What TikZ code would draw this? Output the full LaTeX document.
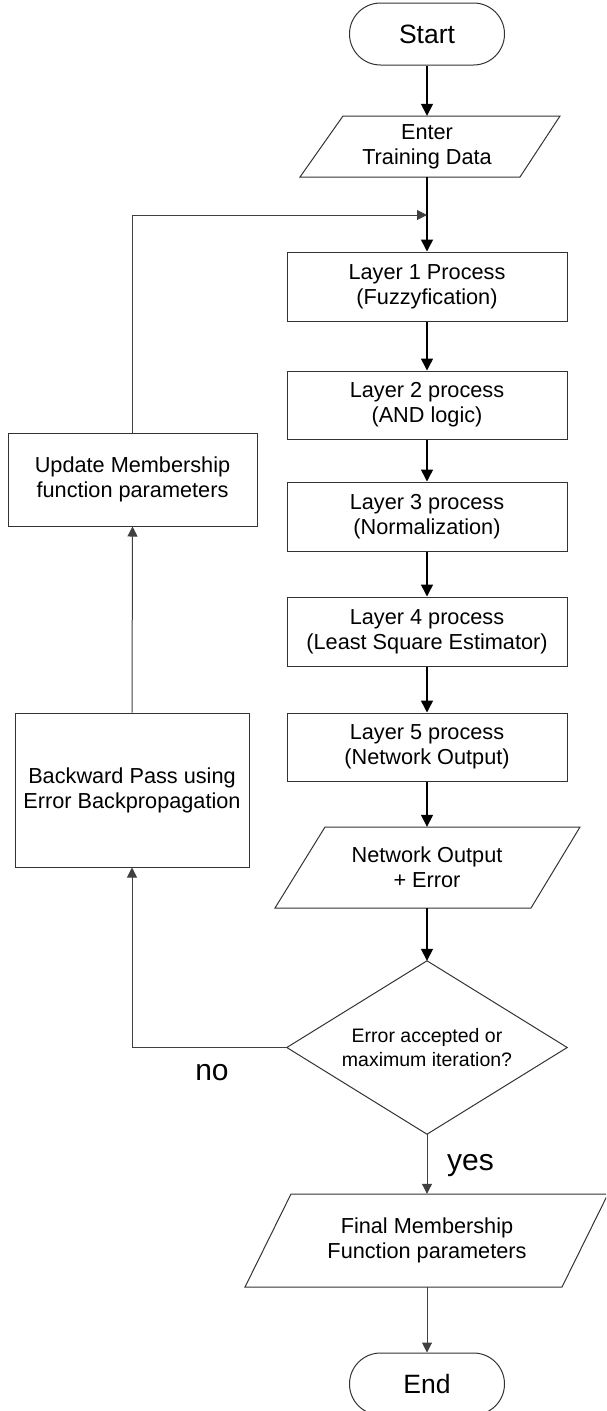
\documentclass[tikz,border=0pt]{standalone}
\usepackage{fontspec}
\setmainfont{Liberation Sans}
\usetikzlibrary{arrows.meta}
\begin{document}
\begin{tikzpicture}[x=1pt,y=-1pt,
  lbl/.style={font=\fontsize{21.7}{25}\selectfont, align=center, inner sep=0pt},
  procbox/.style={lbl, rectangle, draw=black!80, line width=1pt, minimum width=280pt, minimum height=69pt},
  term/.style={rectangle, draw=black!80, line width=1pt, rounded corners=31pt, minimum width=155pt, minimum height=62pt, inner sep=0pt, font=\fontsize{26.5}{30}\selectfont},
  outline/.style={draw=black!80, line width=1pt, line join=miter},
  thk/.style={line width=1.5pt, draw=black, -{Triangle[length=12pt,width=12pt]}},
  thn/.style={line width=1pt, draw=black!75, -{Triangle[length=10pt,width=10pt]}},
  tag/.style={font=\fontsize{30}{34}\selectfont, inner sep=0pt}
]
\useasboundingbox (0,0) rectangle (606,1411);
\clip (0,0) rectangle (606,1411);

% terminals
\node[term] (start) at (427,34) {Start};
\node[term] (end) at (427,1384) {End};

% Enter training data (parallelogram)
\node[lbl, minimum width=217pt, minimum height=61pt] (enter) at (427,146.5) {Enter\\Training Data};
\draw[outline] (343,116) -- (560,116) -- (520,177) -- (300,177) -- cycle;

% layers
\node[procbox] (l1) at (427,286.5) {Layer 1 Process\\(Fuzzyfication)};
\node[procbox, minimum height=68pt] (l2) at (427,405) {Layer 2 process\\(AND logic)};
\node[procbox] (l3) at (427,516.5) {Layer 3 process\\(Normalization)};
\node[procbox] (l4) at (427,631.5) {Layer 4 process\\(Least Square Estimator)};
\node[procbox, minimum height=68pt] (l5) at (427,747) {Layer 5 process\\(Network Output)};

% network output + error (parallelogram)
\node[lbl, minimum width=255pt, minimum height=81pt] (nout) at (427,867.5) {Network Output\\+ Error};
\draw[outline] (325,827) -- (580,827) -- (531,908) -- (275,908) -- cycle;

% decision
\node[lbl, font=\fontsize{19.5}{23.5}\selectfont, minimum width=280pt, minimum height=173pt] (dec) at (427,1047.5) {Error accepted or\\maximum iteration?};
\draw[outline] (dec.north) -- (dec.east) -- (dec.south) -- (dec.west) -- cycle;

% final parameters (parallelogram)
\node[lbl, minimum width=317pt, minimum height=93pt] (final) at (427,1240.5) {Final Membership\\Function parameters};
\draw[outline] (291,1194) -- (608,1194) -- (562,1287) -- (245,1287) -- cycle;

% left column
\node[lbl, rectangle, draw=black!80, line width=1pt, minimum width=249pt, minimum height=93pt] (update) at (132.5,479.5) {Update Membership\\function parameters};
\node[lbl, rectangle, draw=black!80, line width=1pt, minimum width=234pt, minimum height=154pt] (back) at (132,790) {Backward Pass using\\Error Backpropagation};

% labels
\node[tag] (no) at (212,1073) {no};
\node[tag, anchor=west] (yes) at (447,1166) {yes};

% connectors
\coordinate (join) at (427,215);
\draw[thk] (start) -- (enter);
\draw[thk] (enter) -- (l1);
\draw[thk] (l1) -- (l2);
\draw[thk] (l2) -- (l3);
\draw[thk] (l3) -- (l4);
\draw[thk] (l4) -- (l5);
\draw[thk] (l5) -- (nout);
\draw[thk] (nout) -- (dec.north);
\draw[thn] (dec.south) -- (final);
\draw[thn] (final) -- (end);
\draw[thn] (dec.west) -| (back.south);
\draw[thn] (back.north) -- (update.south);
\draw[thn] (update.north) |- (join);
\end{tikzpicture}
\end{document}
